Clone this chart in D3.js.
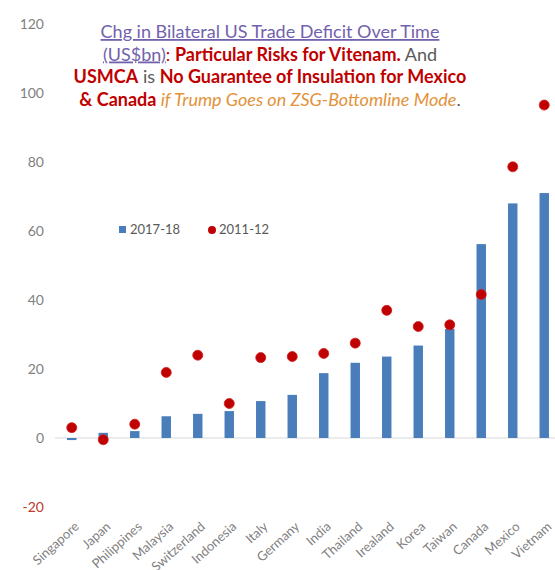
<!DOCTYPE html>
<html lang="en">
  <head>
    <meta charset="UTF-8" />
    <title>Chg in Bilateral US Trade Deficit</title>
    <style>
      body { margin: 0; background: #fff; }
      svg text { font-family: Lato, "Open Sans", sans-serif; }
    </style>
    <script src="https://d3js.org/d3.v7.min.js"></script>
  </head>
  <body>
    <div id="chart"></div>
    <script>
      // data (US$bn)
      const countries = ["Singapore", "Japan", "Philippines", "Malaysia", "Switzerland", "Indonesia",
        "Italy", "Germany", "India", "Thailand", "Irealand", "Korea", "Taiwan", "Canada", "Mexico", "Vietnam"];
      const deficit1718 = [-0.6, 1.5, 2, 6.3, 7, 7.8, 10.7, 12.5, 18.8, 21.8, 23.6, 26.8, 31.6, 56.2, 68, 71];
      const deficit1112 = [3, -0.5, 4, 19, 24, 10, 23.3, 23.6, 24.5, 27.5, 37, 32.3, 32.8, 41.6, 78.6, 96.5];
      const yTicks = [-20, 0, 20, 40, 60, 80, 100, 120];

      const width = 555, height = 570;
      const svg = d3.select("#chart").append("svg")
        .attr("width", width).attr("height", height);

      const x = d3.scaleBand().domain(countries).range([56, 560]).padding(0);
      const y = d3.scaleLinear().domain([-20, 120]).range([507, 24]);

      // y tick labels (no axis line)
      svg.append("g").selectAll("text").data(yTicks).join("text")
        .attr("x", 44)
        .attr("y", d => y(d))
        .attr("dy", "0.35em")
        .attr("text-anchor", "end")
        .attr("font-size", 14)
        .attr("fill", d => d < 0 ? "#c0392b" : "#7f7f7f")
        .text(d => d);

      // zero line
      svg.append("line")
        .attr("x1", 55).attr("x2", 555)
        .attr("y1", y(0)).attr("y2", y(0))
        .attr("stroke", "#d9d9d9").attr("stroke-width", 1);

      // bars 2017-18
      const barW = x.bandwidth() * 0.3;
      svg.append("g").selectAll("rect").data(countries).join("rect")
        .attr("x", d => x(d) + x.bandwidth() / 2 - barW / 2)
        .attr("y", (d, i) => y(Math.max(0, deficit1718[i])))
        .attr("width", barW)
        .attr("height", (d, i) => Math.abs(y(deficit1718[i]) - y(0)))
        .attr("fill", "#4a7ebb");

      // dots 2011-12
      svg.append("g").selectAll("circle").data(countries).join("circle")
        .attr("cx", d => x(d) + x.bandwidth() / 2)
        .attr("cy", (d, i) => y(deficit1112[i]))
        .attr("r", 5)
        .attr("fill", "#c00000")
        .attr("stroke", "#d02020")
        .attr("stroke-width", 0.8);

      // x labels, rotated
      svg.append("g").selectAll("text").data(countries).join("text")
        .attr("transform", d => `translate(${x(d) + x.bandwidth() / 2 + 2},521) rotate(-42)`)
        .attr("dy", "0.7em")
        .attr("text-anchor", "end")
        .attr("font-size", 13)
        .attr("fill", "#808080")
        .text(d => d);

      // legend
      const legend = svg.append("g").attr("font-size", 13).attr("fill", "#595959");
      legend.append("rect").attr("x", 119).attr("y", 226).attr("width", 7).attr("height", 7).attr("fill", "#4a7ebb");
      legend.append("text").attr("x", 130).attr("y", 234).text("2017-18");
      legend.append("circle").attr("cx", 212).attr("cy", 230).attr("r", 4).attr("fill", "#c00000");
      legend.append("text").attr("x", 219).attr("y", 234).text("2011-12");

      // title, rich text per line
      const purple = "#7262ad", red = "#c00000", gray = "#595959", orange = "#e3923a";
      const titleLines = [
        [{ t: "Chg in Bilateral US Trade Deficit Over Time", c: purple, u: true }],
        [{ t: "(US$bn)", c: purple, u: true }, { t: ": ", c: red }, { t: "Particular Risks for Vitenam.", c: red, b: true }, { t: " And", c: gray }],
        [{ t: "USMCA", c: red, b: true }, { t: " is ", c: gray }, { t: "No Guarantee of Insulation for Mexico", c: red, b: true }],
        [{ t: "& Canada", c: red, b: true }, { t: " if Trump Goes on ZSG-Bottomline Mode", c: orange, i: true }, { t: ".", c: gray }]
      ];
      const title = svg.append("g").attr("font-size", 18);
      titleLines.forEach((parts, li) => {
        const txt = title.append("text")
          .attr("x", 270).attr("y", 38 + li * 22.5)
          .attr("text-anchor", "middle");
        parts.forEach(p => {
          txt.append("tspan")
            .attr("fill", p.c)
            .attr("font-weight", p.b ? "bold" : null)
            .attr("font-style", p.i ? "italic" : null)
            .attr("text-decoration", p.u ? "underline" : null)
            .style("white-space", "pre")
            .text(p.t);
        });
      });
    </script>
  </body>
</html>
